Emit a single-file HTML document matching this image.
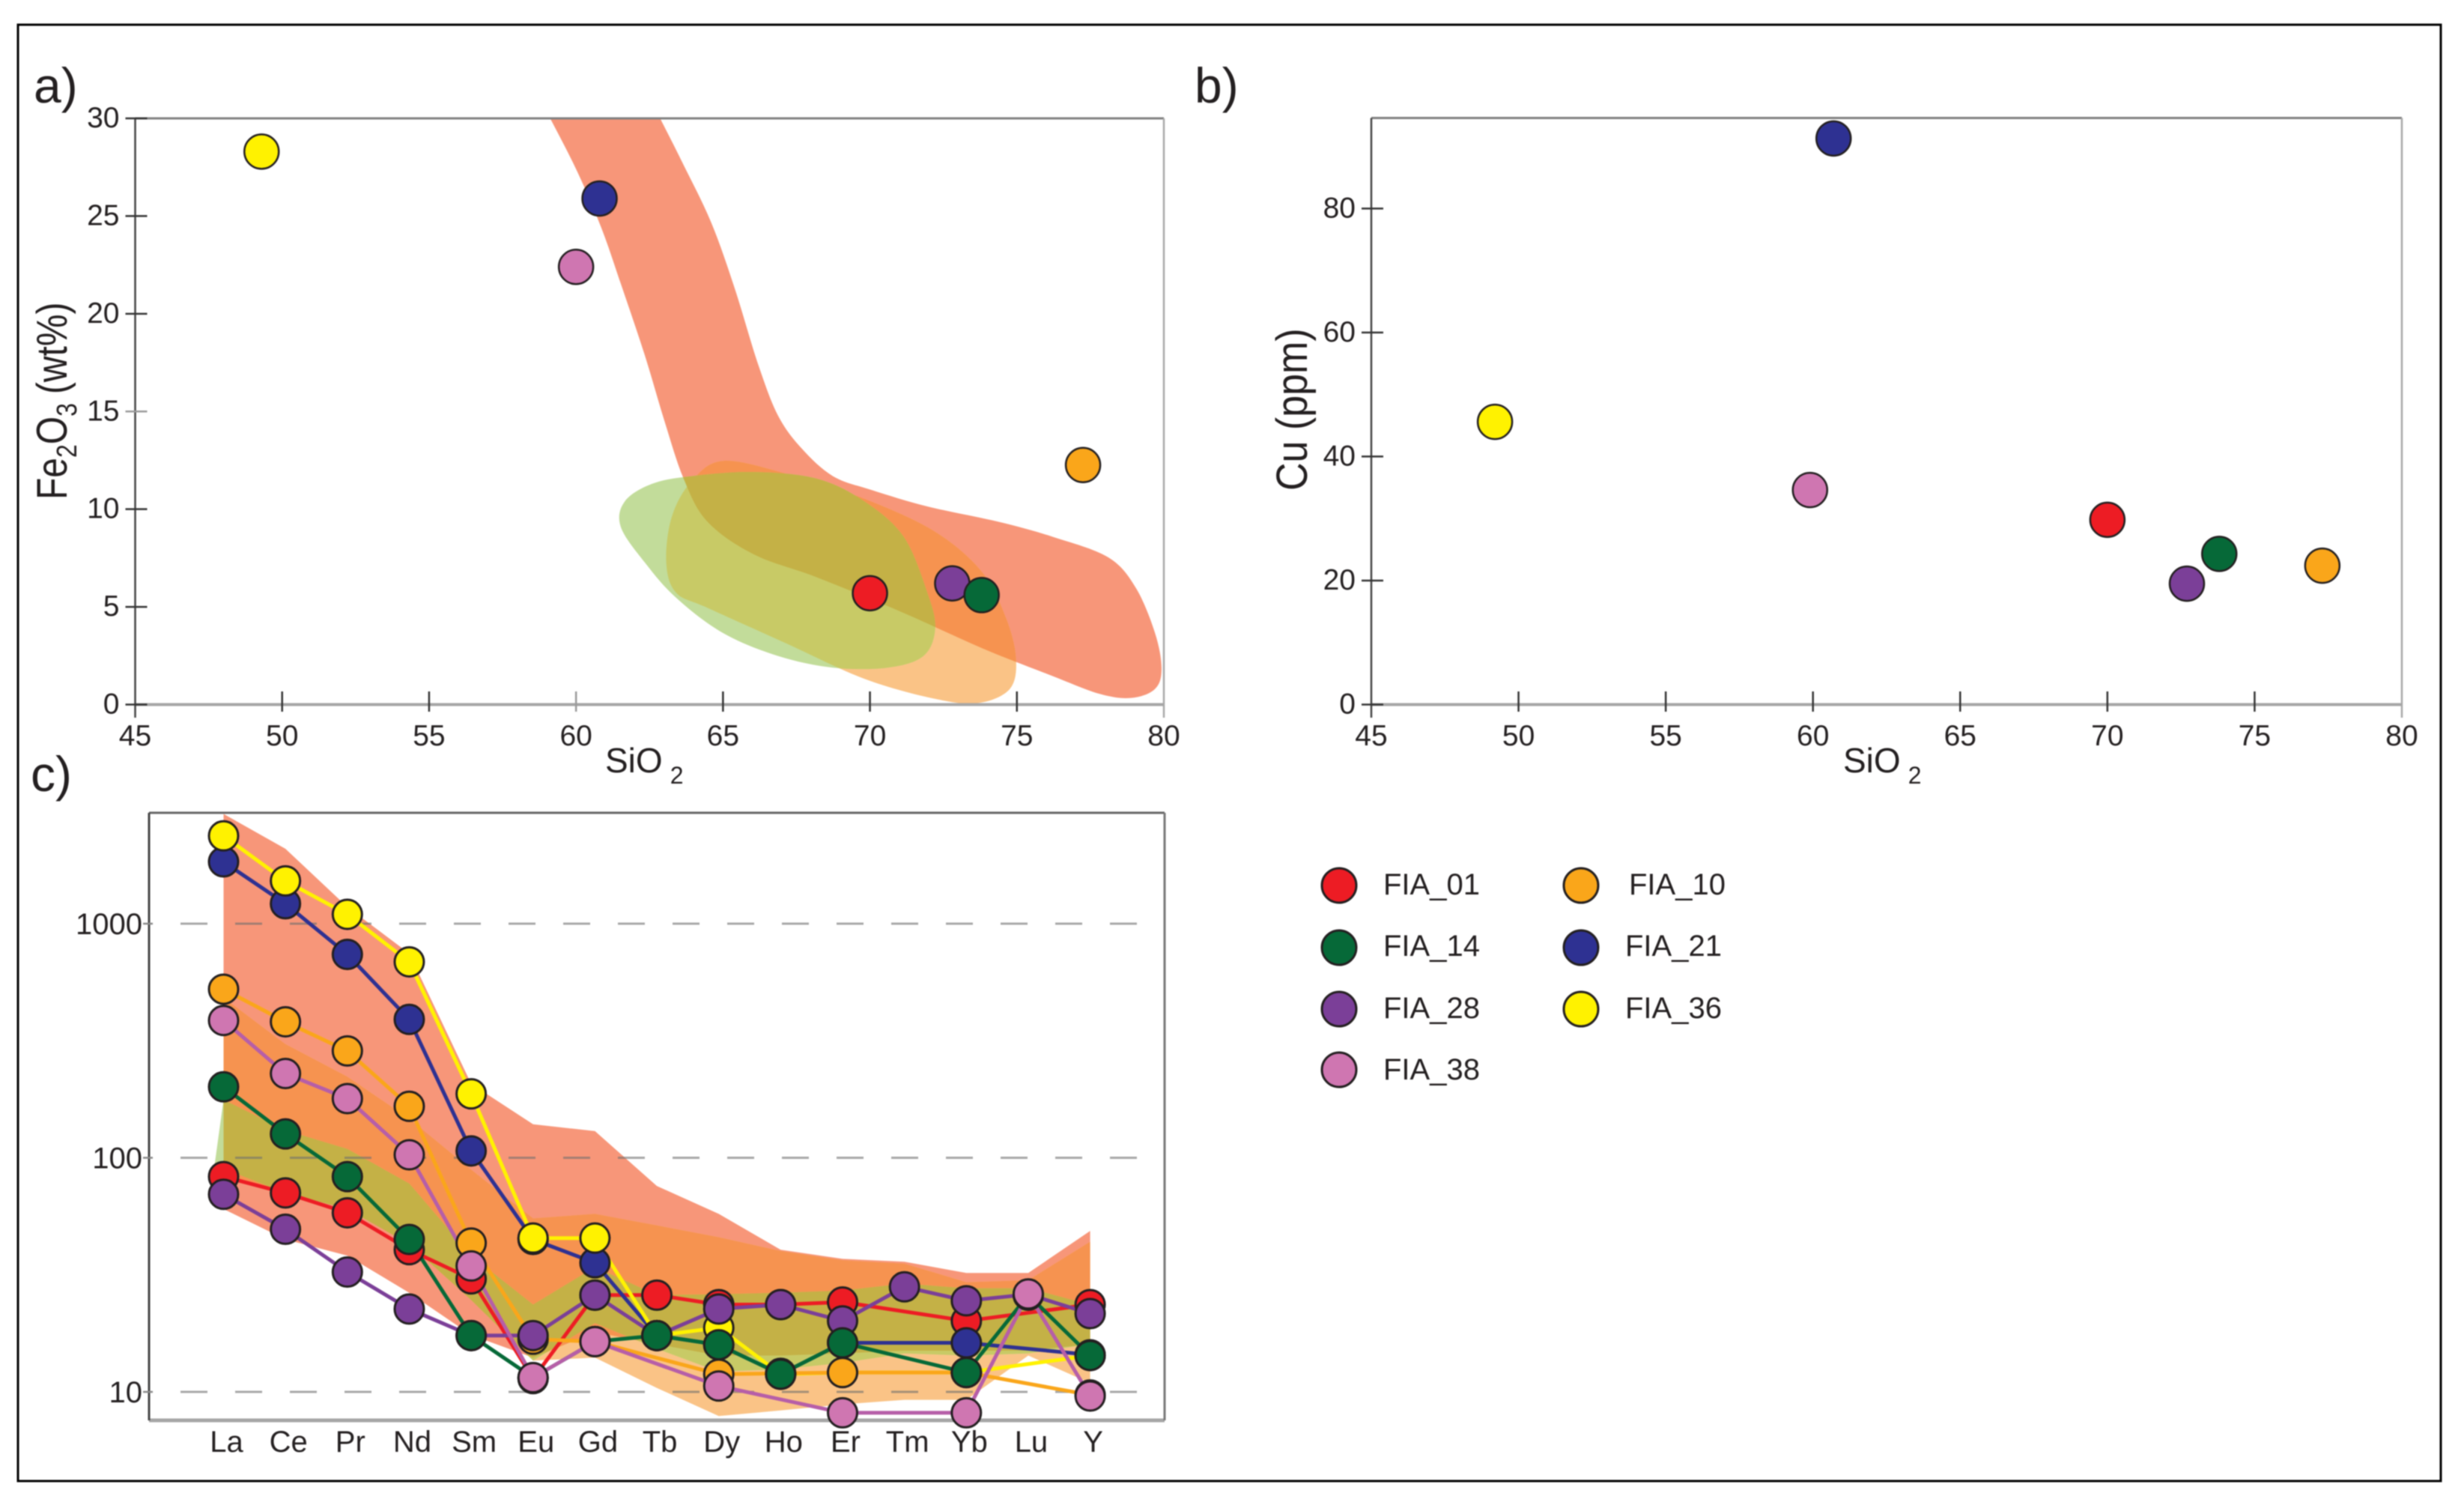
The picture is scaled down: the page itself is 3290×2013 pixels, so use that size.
<!DOCTYPE html>
<html lang="en">
<head>
<meta charset="utf-8">
<title>Fe2O3, Cu and REE plots for FIA samples</title>
<style>
html,body{margin:0;padding:0;background:#fff;}
body{width:3290px;height:2013px;overflow:hidden;}
svg{display:block;filter:blur(0.8px);}
text{font-family:"Liberation Sans",sans-serif;fill:#231f20;}
</style>
</head>
<body>
<svg id="figure" xmlns="http://www.w3.org/2000/svg" width="3290" height="2013" viewBox="0 0 3290 2013">
  <rect x="0" y="0" width="3290" height="2013" fill="#ffffff"/>
  <rect x="24" y="33" width="3235" height="1944" fill="none" stroke="#000000" stroke-width="3"/>

  <text x="45" y="137" font-size="66">a)</text>
  <text x="1595" y="137" font-size="66">b)</text>
  <text x="41" y="1056" font-size="66">c)</text>

  <g id="panel-a"></g>
  <g id="panel-b"></g>
  <g id="panel-c"></g>

  <text x="808" y="1031" font-size="46">SiO<tspan font-size="32" dy="15" dx="10">2</tspan></text>
  <text x="2461" y="1031" font-size="46">SiO<tspan font-size="32" dy="15" dx="10">2</tspan></text>
  <text transform="translate(89 667) rotate(-90) scale(1 1.2)" font-size="48">Fe<tspan font-size="32" dy="11">2</tspan><tspan dy="-11">O</tspan><tspan font-size="32" dy="11">3</tspan><tspan dy="-11" dx="12">(wt%)</tspan></text>
  <text transform="translate(1745 655) rotate(-90) scale(1 1.12)" font-size="52">Cu (ppm)</text>

  <g font-size="40">
    <g><circle cx="1788" cy="1182" r="23" fill="#ed1c24" stroke="#231f20" stroke-width="3"/><text x="1847" y="1194" font-size="40">FIA_01</text></g>
    <g><circle cx="1788" cy="1265" r="23" fill="#066938" stroke="#231f20" stroke-width="3"/><text x="1847" y="1276" font-size="40">FIA_14</text></g>
    <g><circle cx="1788" cy="1347" r="23" fill="#7b3f98" stroke="#231f20" stroke-width="3"/><text x="1847" y="1359" font-size="40">FIA_28</text></g>
    <g><circle cx="1788" cy="1428" r="23" fill="#cf76b1" stroke="#231f20" stroke-width="3"/><text x="1847" y="1441" font-size="40">FIA_38</text></g>
    <g><circle cx="2111" cy="1182" r="23" fill="#faa61a" stroke="#231f20" stroke-width="3"/><text x="2175" y="1194" font-size="40">FIA_10</text></g>
    <g><circle cx="2111" cy="1265" r="23" fill="#2e3192" stroke="#231f20" stroke-width="3"/><text x="2170" y="1276" font-size="40">FIA_21</text></g>
    <g><circle cx="2111" cy="1347" r="23" fill="#fff200" stroke="#231f20" stroke-width="3"/><text x="2170" y="1359" font-size="40">FIA_36</text></g>
  </g>
</svg>

<script>
// ---- shared sample data ----
const sampleNames = ['FIA_01','FIA_21','FIA_36','FIA_10','FIA_28','FIA_14','FIA_38'];
const markerColors = ['#ed1c24','#2e3192','#fff200','#faa61a','#7b3f98','#066938','#cf76b1'];
const lineColors = ['#ed1c24','#2e3192','#fff200','#faa61a','#7b3f98','#066938','#b65ea8'];

// ---- panel a values ----
const sio2PanelA = [70.0,60.8,49.3,77.25,72.8,73.8,60.0];
const fe2o3Values = [5.7,25.9,28.3,12.26,6.2,5.6,22.4];
const xTickLabels = [45,50,55,60,65,70,75,80];
const fe2o3TickLabels = [0,5,10,15,20,25,30];
const fieldASalmon = [[58.07,33],[61.85,33],[62.86,30],[63.61,27.77],[64.6,24.66],[65.4,21.29],[66.2,17.4],[66.87,14.8],[67.67,13.12],[68.74,11.69],[70.08,10.97],[71.95,10.14],[74.36,9.36],[76.23,8.58],[78.1,7.54],[79.04,5.99],[79.7,3.66],[79.92,1.84],[79.7,0.8],[78.9,0.34],[77.83,0.54],[76.23,1.45],[73.82,2.88],[71.15,4.69],[68.2,6.51],[66.07,7.67],[64.47,9.36],[63.66,11.56],[63.0,14.55],[62.33,17.92],[61.52,21.55],[60.86,24.4],[60.05,27.25],[59.12,30]];
const fieldAOrange = [[65.0,12.47],[67.14,11.82],[69.81,10.53],[72.22,8.84],[73.82,6.77],[74.63,4.43],[74.97,2.36],[74.76,0.8],[73.69,0.08],[72.22,0.29],[69.81,1.32],[67.14,3.14],[64.47,4.95],[63.4,5.73],[63.07,7.29],[63.26,9.62],[63.93,11.43]];
const fieldAGreen = [[66.07,11.9],[68.2,11.56],[69.81,10.4],[71.15,8.58],[71.95,5.73],[72.22,3.91],[71.82,2.49],[70.6,1.89],[68.74,1.89],[66.87,2.49],[65.0,3.66],[63.4,5.47],[62.33,7.29],[61.52,9.1],[61.66,10.4],[62.59,11.3],[63.93,11.69]];

// ---- panel b values ----
const sio2PanelB = [70.0,60.7,49.2,77.3,72.7,73.8,59.9];
const cuValues = [29.8,91.3,45.6,22.4,19.5,24.3,34.6];
const cuTickLabels = [0,20,40,60,80];

// ---- panel c values ----
const reeElements = ['La','Ce','Pr','Nd','Sm','Eu','Gd','Tb','Dy','Ho','Er','Tm','Yb','Lu','Y'];
const reeTickLabels = [10,100,1000];
const reeFia01 = [83.1,70.8,58.2,40.5,30.4,11.4,25.9,25.9,23.6,23.6,24.2,null,20.1,null,23.6];
const reeFia21 = [1837,1217,739,390,107,44.8,35.6,17.4,15.9,11.9,16.2,null,16.2,null,14.4];
const reeFia36 = [2373,1523,1096,687,187.6,45.4,45.4,17.4,18.8,11.9,12.1,null,12.1,null,14.3];
const reeFia10 = [525,381,286,166,43.2,16.8,16.4,null,11.9,12.0,12.1,null,12.1,null,9.7];
const reeFia28 = [69.8,49.5,32.5,22.6,17.4,17.4,25.9,17.4,22.6,23.6,20.1,28.1,24.5,26.1,21.6];
const reeFia14 = [201,126.5,83.1,44.8,17.4,11.5,16.4,17.4,15.9,11.9,16.2,null,12.1,25.9,14.3];
const reeFia38 = [386,229,179,103,34.5,11.5,16.4,null,10.6,null,8.14,null,8.14,26.2,9.6];
const reeSalmonUpper = [2943,2089,1179,746,207,139,130,75.8,57.6,40.5,37.0,36.0,32.2,32.2,48.7];
const reeSalmonLower = [60.4,44.8,38.2,26.5,17.5,14.0,18.0,16.0,14.3,14.3,14.6,15.0,15.0,15.0,16.0];
const reeOrangeUpper = [483,306,222,147,89,55.1,57.6,51.4,45.8,40.0,36.5,35.3,29.4,30.0,43.8];
const reeOrangeLower = [85.0,70.8,60.4,42.8,24.7,13.6,14.0,10.4,7.89,8.33,8.84,9.25,9.25,14.3,10.9];
const reeGreenUpper = [177,131,109,77.6,38.2,23.6,34.1,25.9,26.1,26.5,27.1,29.0,27.7,27.7,23.6];
const reeGreenLower = [93.1,70.8,60.4,42.8,24.7,13.6,19.7,15.3,12.2,12.5,13.3,14.6,14.3,14.6,16.0];

const SVGNS = 'http://www.w3.org/2000/svg';
function make(tag, attrs, parent) {
  const el = document.createElementNS(SVGNS, tag);
  for (const k in attrs) el.setAttribute(k, attrs[k]);
  parent.appendChild(el);
  return el;
}
function linear(d0, d1, r0, r1) { return v => r0 + (v - d0) / (d1 - d0) * (r1 - r0); }
function smoothClosed(pts) {
  const n = pts.length;
  let d = 'M' + pts[0][0].toFixed(1) + ' ' + pts[0][1].toFixed(1);
  for (let i = 0; i < n; i++) {
    const p0 = pts[(i - 1 + n) % n], p1 = pts[i], p2 = pts[(i + 1) % n], p3 = pts[(i + 2) % n];
    const c1x = p1[0] + (p2[0] - p0[0]) / 6, c1y = p1[1] + (p2[1] - p0[1]) / 6;
    const c2x = p2[0] - (p3[0] - p1[0]) / 6, c2y = p2[1] - (p3[1] - p1[1]) / 6;
    d += 'C' + c1x.toFixed(1) + ' ' + c1y.toFixed(1) + ' ' + c2x.toFixed(1) + ' ' + c2y.toFixed(1) + ' ' + p2[0].toFixed(1) + ' ' + p2[1].toFixed(1);
  }
  return d + 'Z';
}
const defs = make('defs', {}, document.getElementById('figure'));

const COL_SALMON = '#f79679', COL_ORANGE = '#fac386', COL_GREEN = '#c2dc9a';
const COL_SAL_OR = '#f69350', COL_GR_OR = '#c8ca66', COL_ALL = '#c4b146';

function paintRegions(parent, prefix, dSalmon, dOrange, dGreen) {
  const cSal = make('clipPath', {id: prefix + '-clip-salmon'}, defs);
  make('path', {d: dSalmon}, cSal);
  const cOr = make('clipPath', {id: prefix + '-clip-orange'}, defs);
  make('path', {d: dOrange}, cOr);

  const a = make('path', {d: dSalmon, fill: COL_SALMON}, parent);
  
  
  const b = make('path', {d: dOrange, fill: COL_ORANGE}, parent);
  
  
  const c = make('path', {d: dGreen, fill: COL_GREEN}, parent);
  
  
  const d = make('path', {d: dOrange, fill: COL_SAL_OR, 'clip-path': 'url(#' + prefix + '-clip-salmon)'}, parent);
  
  
  const e = make('path', {d: dGreen, fill: COL_GR_OR, 'clip-path': 'url(#' + prefix + '-clip-orange)'}, parent);
  
  
  const f = make('path', {d: dGreen, fill: COL_ALL, 'clip-path': 'url(#' + prefix + '-clip-salmon)'}, parent);
  
  
}

function drawScatterAxes(g, L, R, T, B, xS, yS, yTicks, greyX, greyY) {
  const frame = [
    [L, T, R, T, '#808080', 3],
    [L, B, R, B, '#a6a6a6', 4],
    [R, T, R, 958, '#a8a8a8', 2.5],
    [L, T, L, 958, '#444444', 2.5]
  ];
  frame.forEach(s => {
    const ln = make('line', {x1: s[0], y1: s[1], x2: s[2], y2: s[3], stroke: s[4], 'stroke-width': s[5]}, g);
    
    
  });
  xTickLabels.forEach(v => {
    const x = xS(v);
    if (v !== 45 && v !== 80) {
      const t = make('line', {x1: x, y1: 923, x2: x, y2: 950, stroke: v === greyX ? '#9a9a9a' : '#333333', 'stroke-width': 2.5}, g);
      
      
    }
    const lb = make('text', {x: x, y: 995, 'font-size': 39, 'text-anchor': 'middle'}, g);
    lb.textContent = v;
    
    
  });
  yTicks.forEach(v => {
    const y = yS(v);
    const t = make('line', {x1: L - 13, y1: y, x2: L + 16, y2: y, stroke: v === greyY ? '#9a9a9a' : '#333333', 'stroke-width': 2.5}, g);
    
    
    const lb = make('text', {x: L - 21, y: y + 12, 'font-size': 39, 'text-anchor': 'end'}, g);
    lb.textContent = v;
    
    
  });
}

function drawScatterPoints(g, xs, ys, xS, yS) {
  sampleNames.forEach((name, i) => {
    const c = make('circle', {cx: xS(xs[i]), cy: yS(ys[i]), r: 23, fill: markerColors[i], stroke: '#231f20', 'stroke-width': 2.5}, g);
    
    
  });
}

// ---- Panel a ----
(function () {
  const g = document.getElementById('panel-a');
  const L = 180.5, R = 1554, T = 158, B = 940.5;
  const xS = linear(45, 80, L, R), yS = linear(0, 30, B, T);
  const clip = make('clipPath', {id: 'panel-a-clip'}, defs);
  make('rect', {x: L, y: T, width: R - L, height: B - T + 8}, clip);
  const reg = make('g', {'clip-path': 'url(#panel-a-clip)'}, g);
  const toPx = arr => arr.map(p => [xS(p[0]), yS(p[1])]);
  paintRegions(reg, 'a', smoothClosed(toPx(fieldASalmon)), smoothClosed(toPx(fieldAOrange)), smoothClosed(toPx(fieldAGreen)));
  drawScatterAxes(g, L, R, T, B, xS, yS, fe2o3TickLabels, 60, 15);
  drawScatterPoints(g, sio2PanelA, fe2o3Values, xS, yS);
})();

// ---- Panel b ----
(function () {
  const g = document.getElementById('panel-b');
  const L = 1831, R = 3207, T = 157.5, B = 940.5;
  const xS = linear(45, 80, L, R), yS = linear(0, 94.6, B, T);
  drawScatterAxes(g, L, R, T, B, xS, yS, cuTickLabels, null, null);
  drawScatterPoints(g, sio2PanelB, cuValues, xS, yS);
})();

// ---- Panel c ----
(function () {
  const g = document.getElementById('panel-c');
  const L = 199, R = 1555, T = 1085, B = 1896;
  const xS = linear(0, 14, 298.5, 1455.6);
  const yS = v => 1858 - (Math.log10(v) - 1) * 312.5;
  const band = (up, lo, leftNudge) => {
    let d = '';
    up.forEach((v, i) => { d += (i ? 'L' : 'M') + xS(i).toFixed(1) + ' ' + yS(v).toFixed(1); });
    for (let i = lo.length - 1; i >= 0; i--) {
      const nudge = i === 0 ? leftNudge : 0;
      d += 'L' + (xS(i) - nudge).toFixed(1) + ' ' + yS(lo[i]).toFixed(1);
    }
    return d + 'Z';
  };
  const reg = make('g', {}, g);
  paintRegions(reg, 'c', band(reeSalmonUpper, reeSalmonLower, 0), band(reeOrangeUpper, reeOrangeLower, 0), band(reeGreenUpper, reeGreenLower, 12));

  const border = [
    [L, T, R, T, '#666666', 3],
    [L, B, R, B, '#a6a6a6', 5],
    [R, T, R, B, '#777777', 3],
    [L, T, L, B, '#444444', 3]
  ];
  border.forEach(s => {
    const ln = make('line', {x1: s[0], y1: s[1], x2: s[2], y2: s[3], stroke: s[4], 'stroke-width': s[5]}, g);
    
    
  });

  reeTickLabels.forEach(v => {
    const y = yS(v);
    const gl = make('line', {x1: 241, y1: y, x2: R, y2: y, stroke: '#6e6e6e', 'stroke-opacity': 0.6, 'stroke-width': 3, 'stroke-dasharray': '36 37'}, g);
    
    
    const t = make('line', {x1: 191, y1: y, x2: 204, y2: y, stroke: '#888888', 'stroke-width': 2.5}, g);
    
    
    const lb = make('text', {x: 190, y: y + 14, 'font-size': 40, 'text-anchor': 'end'}, g);
    lb.textContent = v;
    
    
  });

  reeElements.forEach((name, i) => {
    const lb = make('text', {x: xS(i) + 4, y: 1938, 'font-size': 40, 'text-anchor': 'middle'}, g);
    lb.textContent = name;
    
    
  });

  const reeSeries = [reeFia01, reeFia21, reeFia36, reeFia10, reeFia28, reeFia14, reeFia38];
  reeSeries.forEach((vals, s) => {
    const pts = [];
    vals.forEach((v, i) => { if (v !== null) pts.push(xS(i).toFixed(1) + ',' + yS(v).toFixed(1)); });
    const pl = make('polyline', {points: pts.join(' '), fill: 'none', stroke: lineColors[s], 'stroke-width': 5, 'stroke-linejoin': 'round'}, g);
    
    
  });
  reeSeries.forEach((vals, s) => {
    vals.forEach((v, i) => {
      if (v === null) return;
      const c = make('circle', {cx: xS(i), cy: yS(v), r: 19.5, fill: markerColors[s], stroke: '#231f20', 'stroke-width': 3}, g);
      
      
    });
  });
})();
</script>
</body>
</html>
